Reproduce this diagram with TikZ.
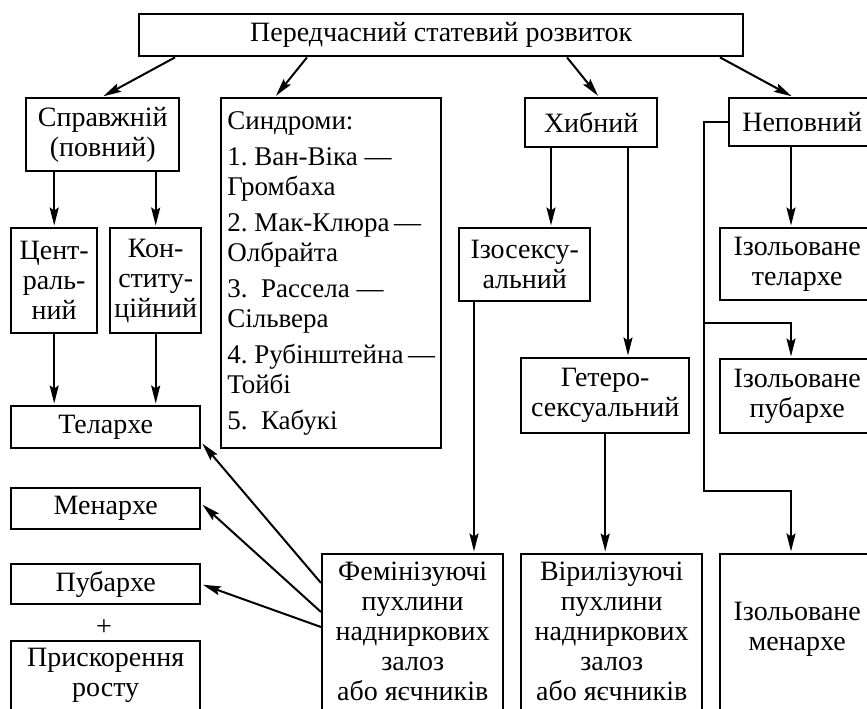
\documentclass[tikz,border=0pt]{standalone}
\usepackage{fontspec}
\setmainfont{Liberation Serif}
\usetikzlibrary{arrows.meta}

\begin{document}
\begin{tikzpicture}[x=1pt, y=-1pt,
    main/.style={draw, rectangle, line width=2.4pt, inner sep=0pt, align=center, anchor=north west, font=\fontsize{28pt}{30pt}\selectfont\frenchspacing},
    ar/.style={line width=2pt, -{Stealth[length=18pt, width=9pt, inset=3pt]}, shorten >=1.5pt}]
  \useasboundingbox (0,0) rectangle (867,709);
  \clip (0,0) rectangle (867,709);

  \node[main, minimum width=604pt, minimum height=42pt] (top) at (138,13) {Передчасний статевий розвиток};

  \node[main, minimum width=153pt, minimum height=73pt] (spr) at (25,97) {Справжній\\(повний)};
  \node[main, minimum width=220pt, minimum height=350pt, align=left, font=\fontsize{27pt}{30pt}\selectfont\frenchspacing] (synd) at (220,97)
    {Синдроми:\\[6pt]
     1. Ван-Віка —\\ Громбаха\\[6pt]
     2. Мак-Клюра\,—\\ Олбрайта\\[6pt]
     3.~~Рассела —\\ Сільвера\\[6pt]
     4. Рубінштейна\,—\\ Тойбі\\[6pt]
     5.~~Кабукі};
  \node[main, minimum width=132pt, minimum height=49pt] (khyb) at (524,97) {Хибний};
  \node[main, minimum width=146pt, minimum height=48pt] (nepov) at (728,97) {Неповний};

  \node[main, minimum width=86pt, minimum height=105pt] (tsentr) at (10,227) {Цент-\\раль-\\ний};
  \node[main, minimum width=91pt, minimum height=105pt] (konst) at (109,227) {Кон-\\ститу-\\ційний};
  \node[main, minimum width=131pt, minimum height=73pt] (izo) at (458,227) {Ізосексу-\\альний};
  \node[main, minimum width=154pt, minimum height=72pt] (iztel) at (719,227) {Ізольоване\\телархе};
  \node[main, minimum width=168pt, minimum height=75pt] (hetero) at (520,357) {Гетеро-\\сексуальний};
  \node[main, minimum width=154pt, minimum height=74pt] (izpub) at (719,358) {Ізольоване\\пубархе};

  \node[main, minimum width=189pt, minimum height=42pt] (telar) at (10,405) {Телархе};
  \node[main, minimum width=189pt, minimum height=41pt] (menar) at (10,487) {Менархе};
  \node[main, minimum width=189pt, minimum height=40pt] (pubar) at (10,563) {Пубархе};
  \node[font=\fontsize{28pt}{30pt}\selectfont, inner sep=0pt] (plus) at (104,628) {+};
  \node[main, minimum width=189pt, minimum height=92pt] (prysk) at (10,640) {Прискорення\\росту\\ \mbox{}};

  \node[main, minimum width=181pt, minimum height=184pt] (fem) at (321,553) {Фемінізуючі\\пухлини\\надниркових\\залоз\\або яєчників\\ \mbox{}};
  \node[main, minimum width=181pt, minimum height=184pt] (viril) at (520,553) {Вірилізуючі\\пухлини\\надниркових\\залоз\\або яєчників\\ \mbox{}};
  \node[main, minimum width=154pt, minimum height=174pt] (izmen) at (719,553) {Ізольоване\\менархе\\ \mbox{}};

  % from the top box
  \draw[ar] ([xshift=37pt]top.south west) -- ([xshift=77pt]spr.north west);
  \draw[ar] ([xshift=169pt]top.south west) -- ([xshift=55pt]synd.north west);
  \draw[ar] ([xshift=429pt]top.south west) -- ([xshift=75pt]khyb.north west);
  \draw[ar] ([xshift=582pt]top.south west) -- ([xshift=65pt]nepov.north west);

  % true
  \draw[ar] (spr.south -| tsentr.north) -- (tsentr.north);
  \draw[ar] (spr.south -| konst.north) -- (konst.north);
  \draw[ar] (tsentr.south) -- (tsentr.south |- telar.north);
  \draw[ar] (konst.south) -- (konst.south |- telar.north);

  % false
  \coordinate (k1) at ([xshift=27pt]khyb.south west);
  \coordinate (k2) at ([xshift=104pt]khyb.south west);
  \coordinate (i1) at ([xshift=16pt]izo.south west);
  \draw[ar] (k1) -- (k1 |- izo.north);
  \draw[ar] (k2) -- (k2 |- hetero.north);
  \draw[ar] (i1) -- (i1 |- fem.north);
  \draw[ar] (hetero.south) -- (hetero.south |- viril.north);

  \draw[ar] ([yshift=-30pt]fem.north west) -- ([yshift=7pt]telar.south east);
  \draw[ar] ([yshift=-59pt]fem.north west) -- ([yshift=5pt]menar.east);
  \draw[ar] ([yshift=-74pt]fem.north west) -- (pubar.east);

  % incomplete
  \coordinate (n1) at ([xshift=63pt]nepov.south west);
  \draw[ar] (n1) -- (n1 |- iztel.north);
  \coordinate (jn) at ([xshift=-24pt]nepov.west);
  \coordinate (b1) at ([xshift=72pt]izpub.north west);
  \coordinate (b2) at ([xshift=72pt]izmen.north west);
  \coordinate (j1) at ([yshift=35pt]b1);
  \coordinate (j2) at ([yshift=62pt]b2);
  \draw[ar] (nepov.west) -- (jn) |- (j2) -- (b2);
  \draw[ar] (jn |- j1) -- (j1) -- (b1);
\end{tikzpicture}
\end{document}
